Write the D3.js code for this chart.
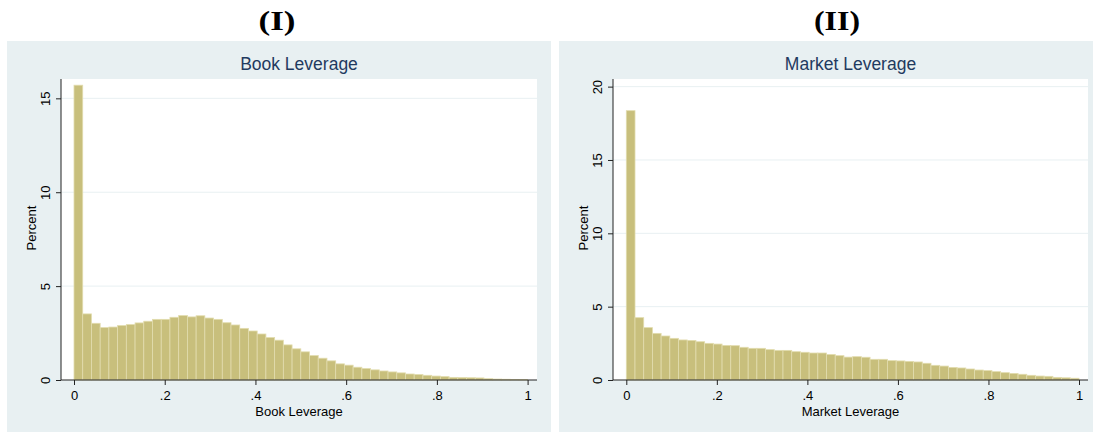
<!DOCTYPE html>
<html>
<head>
<meta charset="utf-8">
<script src="https://cdn.jsdelivr.net/npm/d3@7"></script>
<style>
  body { margin: 0; background: #fff; }
  svg { display: block; font-family: "Liberation Sans", Arial, sans-serif; }
</style>
</head>
<body>
<svg id="chart" width="1097" height="432"></svg>
<script>
// percent of firms per bin, 52 equal bins on [0,1]
var bookPct = [15.7, 3.52, 3.02, 2.79, 2.82, 2.90, 2.95, 3.04, 3.13, 3.23,
  3.23, 3.34, 3.43, 3.36, 3.42, 3.30, 3.23, 3.05, 2.93, 2.75,
  2.61, 2.45, 2.26, 2.12, 1.87, 1.66, 1.50, 1.30, 1.16, 1.02,
  0.86, 0.79, 0.68, 0.61, 0.54, 0.48, 0.43, 0.38, 0.32, 0.29,
  0.25, 0.21, 0.18, 0.14, 0.13, 0.12, 0.11, 0.07, 0.05, 0.04,
  0.03, 0.02];

var marketPct = [18.36, 4.25, 3.57, 3.18, 3.00, 2.84, 2.73, 2.70, 2.61, 2.50,
  2.45, 2.36, 2.34, 2.23, 2.16, 2.16, 2.07, 2.02, 2.02, 1.93,
  1.89, 1.84, 1.84, 1.74, 1.66, 1.56, 1.59, 1.55, 1.41, 1.41,
  1.32, 1.30, 1.27, 1.23, 1.14, 1.00, 0.95, 0.86, 0.82, 0.75,
  0.68, 0.64, 0.57, 0.50, 0.45, 0.39, 0.32, 0.27, 0.25, 0.18,
  0.15, 0.12];

var xTicks = [0, 0.2, 0.4, 0.6, 0.8, 1];
var xTickLabels = ["0", ".2", ".4", ".6", ".8", "1"];
var bookYTicks = [0, 5, 10, 15];
var marketYTicks = [0, 5, 10, 15, 20];

var svg = d3.select("#chart");
var plotTop = 79, plotBottom = 380;

function drawPanel(p){

  var g = svg.append("g");

  // outer graph region
  g.append("rect")
    .attr("x", p.left).attr("y", 41)
    .attr("width", p.right - p.left).attr("height", 395)
    .attr("fill", "#e8f0f2");

  // panel heading (I) / (II)
  g.append("text")
    .attr("x", p.headX).attr("y", 30)
    .attr("text-anchor", "middle")
    .attr("textLength", p.headW)
    .attr("lengthAdjust", "spacingAndGlyphs")
    .style("font-family", "'Liberation Serif', 'Times New Roman', serif")
    .style("font-weight", "bold")
    .style("font-size", "27px")
    .text(p.heading);

  // plot region
  g.append("rect")
    .attr("x", p.axisX).attr("y", plotTop)
    .attr("width", p.plotRight - p.axisX).attr("height", plotBottom - plotTop)
    .attr("fill", "#fff");

  var x = d3.scaleLinear().domain([0, 1]).range([p.x0, p.x1]);
  var y = d3.scaleLinear().domain([0, p.yMax]).range([plotBottom, plotTop]);
  var n = p.data.length;

  // gridlines
  g.selectAll(".grid")
    .data(p.yTicks.filter(function(d){ return d > 0; }))
    .enter().append("line")
    .attr("x1", p.axisX).attr("x2", p.plotRight)
    .attr("y1", function(d){ return y(d); })
    .attr("y2", function(d){ return y(d); })
    .attr("stroke", "#e8f0f2")
    .attr("stroke-width", 1);

  // bars
  g.selectAll(".bar")
    .data(p.data)
    .enter().append("rect")
    .attr("x", function(d, i){ return x(i / n); })
    .attr("width", function(d, i){ return x((i + 1) / n) - x(i / n); })
    .attr("y", function(d){ return y(d); })
    .attr("height", function(d){ return y(0) - y(d); })
    .attr("fill", "#c8bf7c")
    .attr("stroke", "#e2dcae")
    .attr("stroke-width", 0.8);

  // x axis
  var xAxis = d3.axisBottom(x)
    .tickValues(xTicks)
    .tickFormat(function(d, i){ return xTickLabels[i]; })
    .tickSize(5)
    .tickSizeOuter(0);
  var xg = g.append("g").attr("transform", "translate(0," + plotBottom + ")").call(xAxis);
  xg.select(".domain").remove();
  xg.append("line")
    .attr("x1", p.axisX).attr("x2", p.plotRight)
    .attr("stroke", "#222");
  xg.selectAll(".tick line").attr("stroke", "#222");
  xg.selectAll(".tick text")
    .attr("y", 8).attr("dy", "0.9em")
    .style("font-size", "13px")
    .style("font-family", "'Liberation Sans', Arial, sans-serif")
    .attr("fill", "#000");

  // y axis
  var yAxis = d3.axisLeft(y)
    .tickValues(p.yTicks)
    .tickFormat(d3.format("d"))
    .tickSize(5)
    .tickSizeOuter(0);
  var yg = g.append("g").attr("transform", "translate(" + p.axisX + ",0)").call(yAxis);
  yg.select(".domain").remove();
  yg.append("line")
    .attr("y1", plotTop).attr("y2", plotBottom)
    .attr("stroke", "#222");
  yg.selectAll(".tick line").attr("stroke", "#222");
  yg.selectAll(".tick text")
    .attr("x", null).attr("dy", null)
    .attr("transform", "translate(-11,0) rotate(-90)")
    .attr("text-anchor", "middle")
    .style("font-size", "13px")
    .style("font-family", "'Liberation Sans', Arial, sans-serif")
    .attr("fill", "#000");

  // titles
  var cx = (p.axisX + p.plotRight) / 2;
  g.append("text")
    .attr("x", cx).attr("y", 70)
    .attr("text-anchor", "middle")
    .style("font-size", "17.5px")
    .attr("fill", "#1f3a60")
    .text(p.title);

  g.append("text")
    .attr("x", cx).attr("y", 415.5)
    .attr("text-anchor", "middle")
    .style("font-size", "13px")
    .attr("fill", "#000")
    .text(p.xTitle);

  g.append("text")
    .attr("transform", "translate(" + (p.axisX - 25) + ",228) rotate(-90)")
    .attr("text-anchor", "middle")
    .style("font-size", "13px")
    .attr("fill", "#000")
    .text("Percent");
}

drawPanel({
  left: 7, right: 551,
  heading: "(I)", headX: 277, headW: 37,
  title: "Book Leverage", xTitle: "Book Leverage",
  axisX: 61, plotRight: 537,
  x0: 74, x1: 527.6, yMax: 16.03,
  data: bookPct, yTicks: bookYTicks
});

drawPanel({
  left: 559, right: 1093,
  heading: "(II)", headX: 837, headW: 46,
  title: "Market Leverage", xTitle: "Market Leverage",
  axisX: 613, plotRight: 1088,
  x0: 626.3, x1: 1079, yMax: 20.52,
  data: marketPct, yTicks: marketYTicks
});
</script>
</body>
</html>
